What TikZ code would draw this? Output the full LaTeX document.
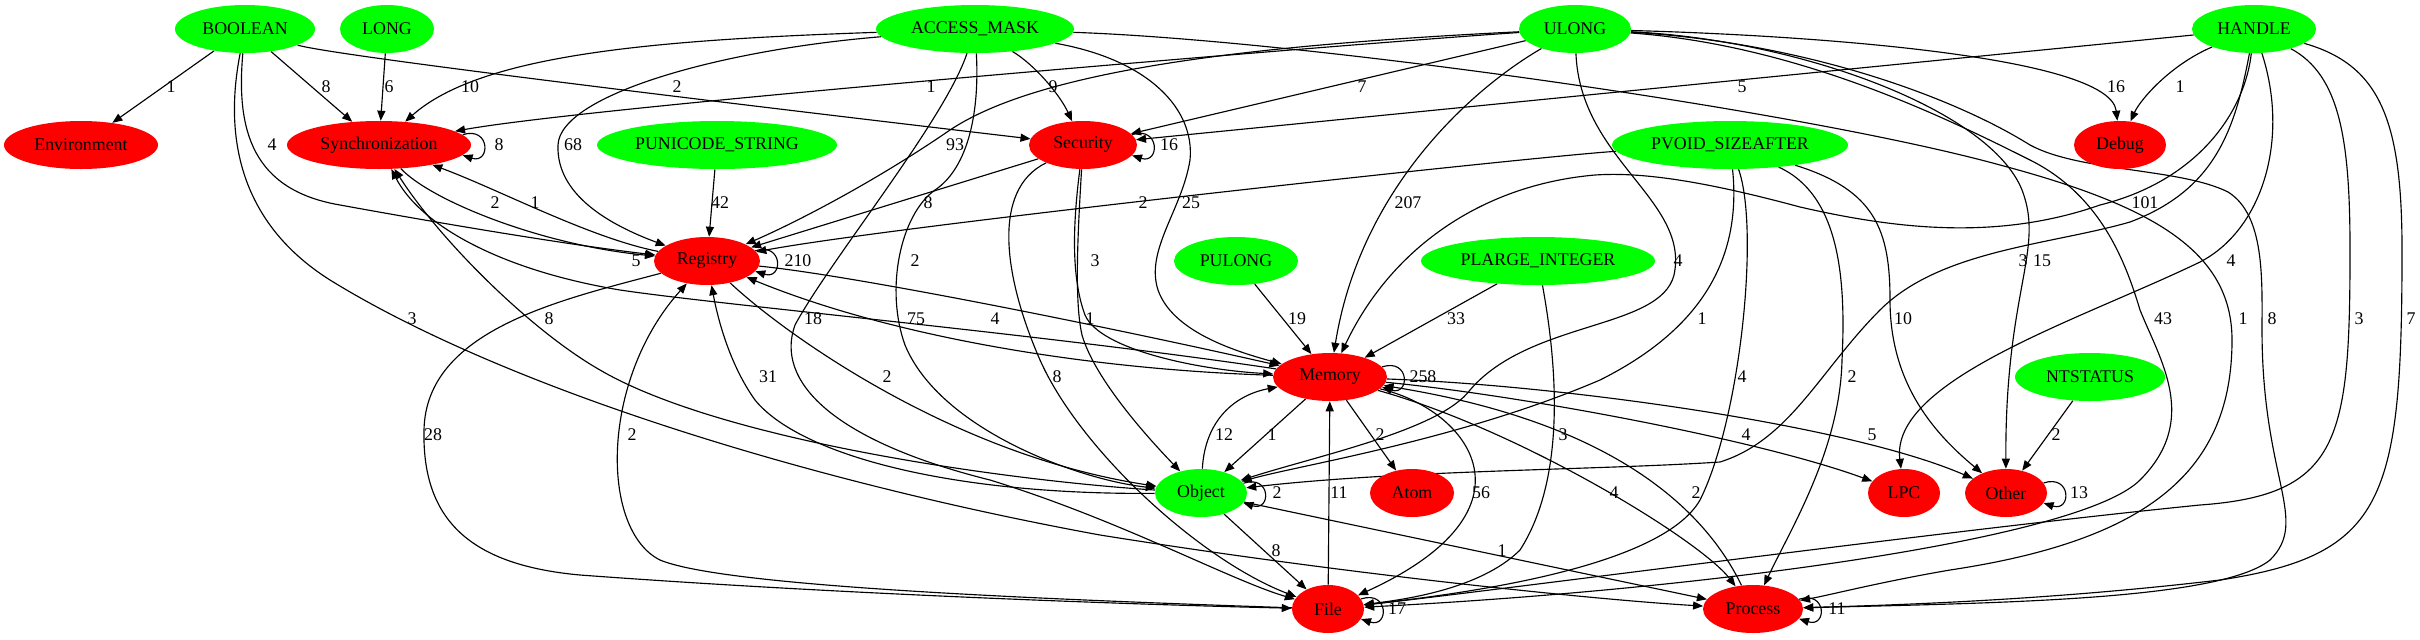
\documentclass[tikz,border=0pt]{standalone}
\usepackage{fontspec}
\setmainfont{Liberation Serif}
\usetikzlibrary{arrows.meta,shapes.geometric}
\definecolor{gvgreen}{RGB}{0,255,0}
\definecolor{gvred}{RGB}{255,0,0}
\newcommand{\gvfont}{\fontsize{12.5pt}{14pt}\selectfont}
\pgfdeclarelayer{bg}
\pgfsetlayers{bg,main}
\tikzset{
  gvnode/.style={ellipse, minimum height=33.6pt, inner sep=0pt, font=\gvfont, text=black},
  gnode/.style={gvnode, fill=gvgreen},
  rnode/.style={gvnode, fill=gvred},
  gvedge/.style={draw=black, line width=0.8pt, -{Triangle[length=7pt,width=5.6pt]}},
  elab/.style={font=\gvfont, inner sep=0pt, text=black},
}
\begin{document}
\begin{tikzpicture}[x=0.7pt,y=-0.7pt]
\useasboundingbox (0,0) rectangle (2420,639);
% nodes
\node[gnode, minimum width=98pt] (BOOL) at (245,29) {BOOLEAN};
\node[gnode, minimum width=65.8pt] (LONG) at (387,29) {LONG};
\node[gnode, minimum width=138.6pt] (AM) at (975,29) {ACCESS\_MASK};
\node[gnode, minimum width=78.4pt] (UL) at (1575,29) {ULONG};
\node[gnode, minimum width=86.8pt] (HA) at (2254,29) {HANDLE};
\node[rnode, minimum width=107.8pt] (ENV) at (81,145) {Environment};
\node[rnode, minimum width=128.8pt] (SYN) at (379,145) {Synchronization};
\node[gnode, minimum width=168pt] (PUS) at (717,145) {PUNICODE\_STRING};
\node[rnode, minimum width=75.6pt] (SEC) at (1083,145) {Security};
\node[gnode, minimum width=165.2pt] (PVS) at (1730,145) {PVOID\_SIZEAFTER};
\node[rnode, minimum width=64.4pt] (DBG) at (2120,145) {Debug};
\node[rnode, minimum width=74.2pt] (REG) at (707,261) {Registry};
\node[gnode, minimum width=86.8pt] (PUL) at (1236,261) {PULONG};
\node[gnode, minimum width=163.8pt] (PLI) at (1538,261) {PLARGE\_INTEGER};
\node[rnode, minimum width=79.8pt] (MEM) at (1330,377) {Memory};
\node[gnode, minimum width=105pt] (NTS) at (2090,377) {NTSTATUS};
\node[gnode, minimum width=64.4pt] (OBJ) at (1201,493) {Object};
\node[rnode, minimum width=58.8pt] (ATM) at (1412,493) {Atom};
\node[rnode, minimum width=50.4pt] (LPC) at (1904,493) {LPC};
\node[rnode, minimum width=57.4pt] (OTH) at (2006,493) {Other};
\node[rnode, minimum width=50.4pt] (FIL) at (1328,609) {File};
\node[rnode, minimum width=70pt] (PRO) at (1753,609) {Process};

\begin{pgfonlayer}{bg}
% rank 0 -> rank 1
\draw[gvedge] (BOOL) -- (ENV);
\draw[gvedge] (BOOL) -- (SYN);
\draw[gvedge] (LONG) -- (SYN);
\draw[gvedge] (AM) .. controls (650,40) and (480,55) .. (SYN);
\draw[gvedge] (BOOL) .. controls (330,55) and (700,100) .. (SEC);
\draw[gvedge] (UL) .. controls (1400,40) and (600,105) .. (SYN);
\draw[gvedge] (AM) .. controls (1035,65) and (1060,95) .. (SEC);
\draw[gvedge] (UL) -- (SEC);
\draw[gvedge] (HA) -- (SEC);
\draw[gvedge] (UL) .. controls (1800,35) and (2110,55) .. (DBG);
\draw[gvedge] (HA) .. controls (2170,65) and (2140,100) .. (DBG);
% into Registry
\draw[gvedge] (BOOL) .. controls (236,130) and (252,190) .. (340,205) .. controls (450,225) and (570,245) .. (REG);
\draw[gvedge] (AM) .. controls (720,50) and (560,95) .. (558,145) .. controls (556,195) and (610,225) .. (REG);
\draw[gvedge] (UL) .. controls (1250,45) and (1040,70) .. (950,130) .. controls (870,185) and (790,225) .. (REG);
\draw[gvedge] (SYN) .. controls (430,200) and (540,245) .. (REG);
\draw[gvedge] (REG) .. controls (590,238) and (500,190) .. (SYN);
\draw[gvedge] (PUS) -- (REG);
\draw[gvedge] (SEC) -- (REG);
\draw[gvedge] (PVS) .. controls (1550,155) and (900,225) .. (REG);
% into Memory
\draw[gvedge] (AM) .. controls (1150,60) and (1195,110) .. (1190,160) .. controls (1182,210) and (1145,250) .. (1158,290) .. controls (1172,330) and (1230,350) .. (MEM);
\draw[gvedge] (UL) .. controls (1470,90) and (1360,190) .. (MEM);
\draw[gvedge] (HA) .. controls (2245,110) and (2200,180) .. (2100,205) .. controls (2000,240) and (1900,230) .. (1800,207) .. controls (1700,180) and (1640,172) .. (1595,175) .. controls (1480,185) and (1390,250) .. (MEM);
\draw[gvedge] (MEM) .. controls (1050,335) and (720,305) .. (620,290) .. controls (500,270) and (420,225) .. (SYN);
\draw[gvedge] (AM) .. controls (980,120) and (965,170) .. (935,190) .. controls (900,215) and (885,290) .. (905,345) .. controls (940,430) and (1080,480) .. (OBJ);
\draw[gvedge] (SEC) .. controls (1072,230) and (1072,280) .. (1085,315) .. controls (1100,350) and (1200,370) .. (MEM);
\draw[gvedge] (UL) .. controls (1580,160) and (1690,200) .. (1674,275) .. controls (1660,330) and (1530,320) .. (1470,390) .. controls (1440,430) and (1320,455) .. (OBJ);
\draw[gvedge] (HA) .. controls (2235,130) and (2215,190) .. (2130,222) .. controls (2050,245) and (1940,250) .. (1880,310) .. controls (1820,370) and (1790,440) .. (1720,462) .. controls (1600,470) and (1400,470) .. (OBJ);
\draw[gvedge] (UL) .. controls (1800,40) and (1990,110) .. (2022,190) .. controls (2045,250) and (2005,290) .. (OTH);
\draw[gvedge] (HA) .. controls (2290,140) and (2262,230) .. (2200,262) .. controls (2080,320) and (1890,380) .. (LPC);
\draw[gvedge] (BOOL) .. controls (225,130) and (235,220) .. (330,280) .. controls (500,385) and (800,480) .. (1100,535) .. controls (1350,575) and (1600,600) .. (PRO);
\draw[gvedge] (OBJ) .. controls (1000,480) and (720,440) .. (600,370) .. controls (530,330) and (440,240) .. (SYN);
\draw[gvedge] (AM) .. controls (945,120) and (830,260) .. (795,325) .. controls (775,380) and (830,440) .. (990,480) .. controls (1120,520) and (1230,580) .. (FIL);
\draw[gvedge] (MEM) .. controls (1100,370) and (900,340) .. (REG);
\draw[gvedge] (REG) .. controls (850,275) and (1100,325) .. (MEM);
\draw[gvedge] (SEC) .. controls (1078,230) and (1074,300) .. (1082,335) .. controls (1095,380) and (1150,440) .. (OBJ);
\draw[gvedge] (PUL) -- (MEM);
\draw[gvedge] (PLI) -- (MEM);
\draw[gvedge] (PVS) .. controls (1742,260) and (1700,330) .. (1600,380) .. controls (1460,440) and (1300,465) .. (OBJ);
\draw[gvedge] (PVS) .. controls (1875,190) and (1890,230) .. (1890,300) .. controls (1890,380) and (1930,430) .. (OTH);
% long edges to File / Process from the right
\draw[gvedge] (UL) .. controls (1800,45) and (1950,120) .. (2030,160) .. controls (2100,195) and (2125,260) .. (2140,310) .. controls (2160,360) and (2200,420) .. (2140,480) .. controls (2080,540) and (1700,590) .. (FIL);
\draw[gvedge] (AM) .. controls (1300,40) and (1800,110) .. (2000,165) .. controls (2150,205) and (2232,250) .. (2232,340) .. controls (2232,470) and (2150,540) .. (1950,570) .. controls (1880,582) and (1830,595) .. (PRO);
\draw[gvedge] (UL) .. controls (1800,42) and (1950,95) .. (2030,145) .. controls (2080,172) and (2180,168) .. (2228,192) .. controls (2265,215) and (2262,280) .. (2262,330) .. controls (2262,480) and (2310,520) .. (2270,560) .. controls (2220,600) and (2000,603) .. (PRO);
\draw[gvedge] (HA) .. controls (2340,75) and (2350,140) .. (2350,250) .. controls (2350,440) and (2340,495) .. (2200,505) .. controls (1950,530) and (1500,590) .. (FIL);
\draw[gvedge] (HA) .. controls (2380,65) and (2402,120) .. (2402,250) .. controls (2402,500) and (2385,555) .. (2220,580) .. controls (2050,600) and (1900,605) .. (PRO);
% Registry / Object / File
\draw[gvedge] (REG) .. controls (780,330) and (950,455) .. (OBJ);
\draw[gvedge] (OBJ) .. controls (950,495) and (800,455) .. (755,400) .. controls (730,365) and (718,320) .. (REG);
\draw[gvedge] (SEC) .. controls (990,190) and (1005,280) .. (1040,360) .. controls (1080,450) and (1200,560) .. (FIL);
\draw[gvedge] (PVS) .. controls (1760,230) and (1740,420) .. (1700,500) .. controls (1660,570) and (1450,595) .. (FIL);
\draw[gvedge] (PVS) .. controls (1840,195) and (1846,280) .. (1842,360) .. controls (1840,450) and (1790,530) .. (PRO);
\draw[gvedge] (REG) .. controls (560,300) and (426,330) .. (424,430) .. controls (422,520) and (470,565) .. (580,575) .. controls (850,595) and (1150,605) .. (FIL);
\draw[gvedge] (FIL) .. controls (1000,598) and (720,585) .. (660,560) .. controls (600,530) and (600,380) .. (REG);
% around Memory
\draw[gvedge] (OBJ) .. controls (1205,420) and (1235,395) .. (MEM);
\draw[gvedge] (MEM) -- (OBJ);
\draw[gvedge] (MEM) -- (ATM);
\draw[gvedge] (PLI) .. controls (1558,370) and (1565,480) .. (1520,550) .. controls (1480,590) and (1400,600) .. (FIL);
\draw[gvedge] (MEM) .. controls (1520,395) and (1760,440) .. (LPC);
\draw[gvedge] (MEM) .. controls (1560,385) and (1850,425) .. (OTH);
\draw[gvedge] (NTS) -- (OTH);
\draw[gvedge] (FIL) -- (MEM);
\draw[gvedge] (MEM) .. controls (1470,410) and (1545,510) .. (FIL);
\draw[gvedge] (MEM) .. controls (1520,430) and (1700,540) .. (PRO);
\draw[gvedge] (PRO) .. controls (1700,500) and (1600,420) .. (MEM);
\draw[gvedge] (OBJ) -- (FIL);
\draw[gvedge] (OBJ) -- (PRO);
% self loops
\draw[gvedge] (SYN.7) .. controls +(28,-9) and +(28,9) .. (SYN.-7);
\draw[gvedge] (SEC.12) .. controls +(28,-9) and +(28,9) .. (SEC.-12);
\draw[gvedge] (REG.12) .. controls +(28,-9) and +(28,9) .. (REG.-12);
\draw[gvedge] (MEM.11) .. controls +(28,-9) and +(28,9) .. (MEM.-11);
\draw[gvedge] (OBJ.13) .. controls +(28,-9) and +(28,9) .. (OBJ.-13);
\draw[gvedge] (FIL.17) .. controls +(28,-9) and +(28,9) .. (FIL.-17);
\draw[gvedge] (PRO.12) .. controls +(28,-9) and +(28,9) .. (PRO.-12);
\draw[gvedge] (OTH.15) .. controls +(28,-9) and +(28,9) .. (OTH.-15);
\end{pgfonlayer}

% edge labels
\node[elab] at (171,87) {1};
\node[elab] at (326,87) {8};
\node[elab] at (389,87) {6};
\node[elab] at (470,87) {10};
\node[elab] at (677,87) {2};
\node[elab] at (931,87) {1};
\node[elab] at (1053,87) {9};
\node[elab] at (1362,87) {7};
\node[elab] at (1742,87) {5};
\node[elab] at (2116,87) {16};
\node[elab] at (2180,87) {1};
\node[elab] at (272,145) {4};
\node[elab] at (499,145) {8};
\node[elab] at (573,145) {68};
\node[elab] at (955,145) {93};
\node[elab] at (1169,145) {16};
\node[elab] at (495,203) {2};
\node[elab] at (535,203) {1};
\node[elab] at (720,203) {42};
\node[elab] at (928,203) {8};
\node[elab] at (1143,203) {2};
\node[elab] at (1191,203) {25};
\node[elab] at (1408,203) {207};
\node[elab] at (2145,203) {101};
\node[elab] at (636,261) {5};
\node[elab] at (798,261) {210};
\node[elab] at (915,261) {2};
\node[elab] at (1095,261) {3};
\node[elab] at (1678,261) {4};
\node[elab] at (2023,261) {3};
\node[elab] at (2042,261) {15};
\node[elab] at (2231,261) {4};
\node[elab] at (412,319) {3};
\node[elab] at (549,319) {8};
\node[elab] at (813,319) {18};
\node[elab] at (916,319) {75};
\node[elab] at (995,319) {4};
\node[elab] at (1090,319) {1};
\node[elab] at (1297,319) {19};
\node[elab] at (1456,319) {33};
\node[elab] at (1702,319) {1};
\node[elab] at (1903,319) {10};
\node[elab] at (2163,319) {43};
\node[elab] at (2243,319) {1};
\node[elab] at (2272,319) {8};
\node[elab] at (2359,319) {3};
\node[elab] at (2411,319) {7};
\node[elab] at (768,377) {31};
\node[elab] at (887,377) {2};
\node[elab] at (1057,377) {8};
\node[elab] at (1423,377) {258};
\node[elab] at (1742,377) {4};
\node[elab] at (1852,377) {2};
\node[elab] at (433,435) {28};
\node[elab] at (632,435) {2};
\node[elab] at (1224,435) {12};
\node[elab] at (1272,435) {1};
\node[elab] at (1380,435) {2};
\node[elab] at (1563,435) {3};
\node[elab] at (1746,435) {4};
\node[elab] at (1872,435) {5};
\node[elab] at (2056,435) {2};
\node[elab] at (1277,493) {2};
\node[elab] at (1339,493) {11};
\node[elab] at (1481,493) {56};
\node[elab] at (1614,493) {4};
\node[elab] at (1696,493) {2};
\node[elab] at (2079,493) {13};
\node[elab] at (1276,551) {8};
\node[elab] at (1502,551) {1};
\node[elab] at (1397,609) {17};
\node[elab] at (1837,609) {11};
\end{tikzpicture}
\end{document}
